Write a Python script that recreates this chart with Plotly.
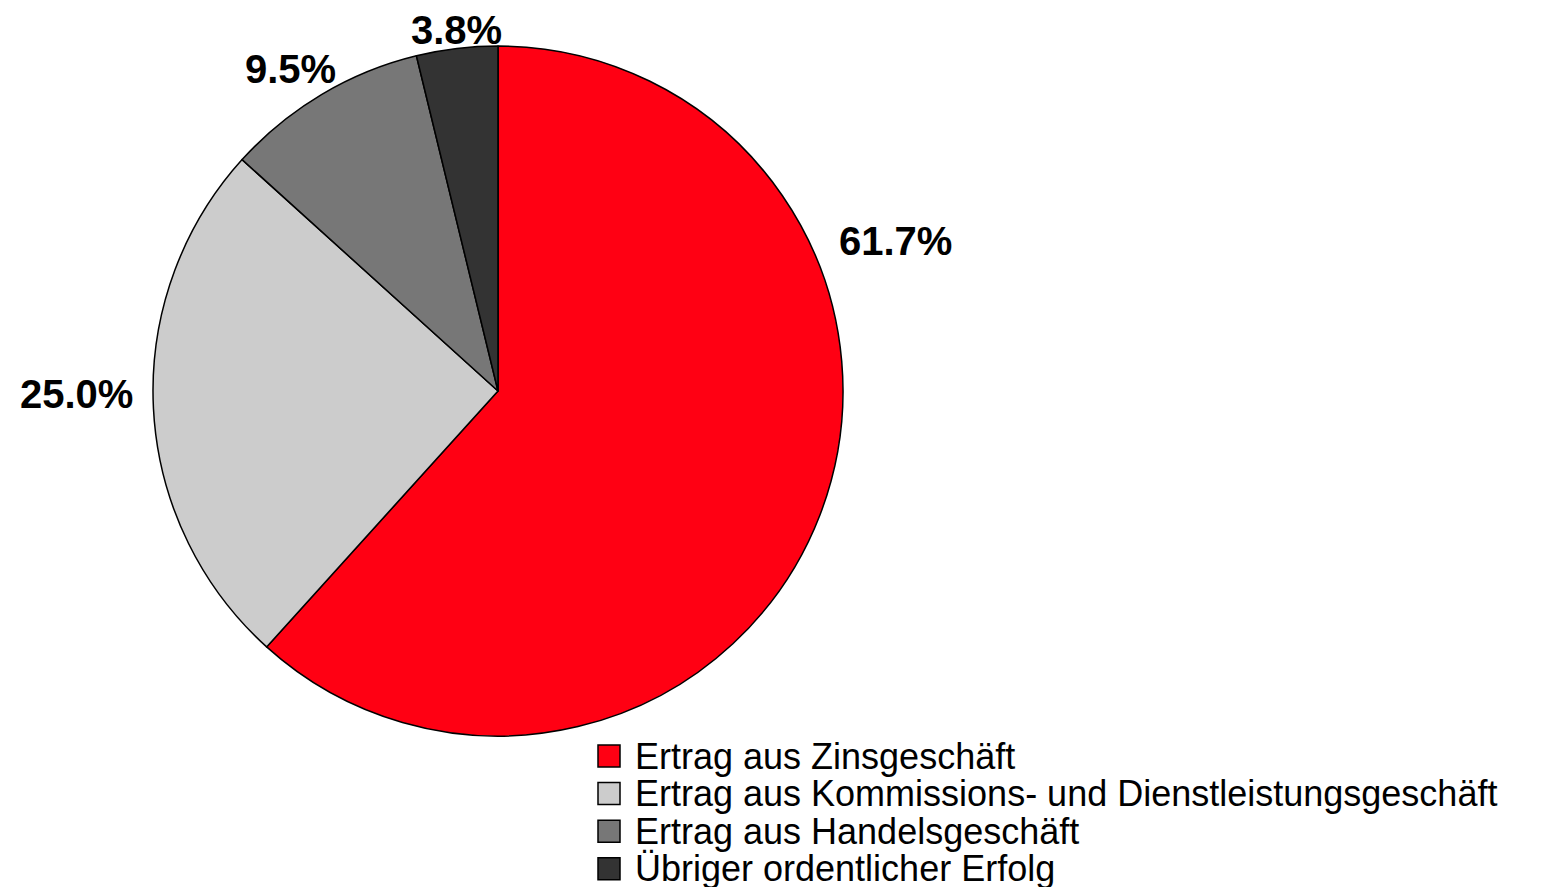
import math
import plotly.graph_objects as go

categories = [
    "Ertrag aus Zinsgeschäft",
    "Ertrag aus Kommissions- und Dienstleistungsgeschäft",
    "Ertrag aus Handelsgeschäft",
    "Übriger ordentlicher Erfolg",
]
values = [61.7, 25.0, 9.5, 3.8]
colors = ["#FF0013", "#CCCCCC", "#777777", "#333333"]

W, H = 1549, 887
OFF = 8  # page body margin
CX, CY, R = 498 - OFF, 391 - OFF, 345
label_font = 40
# label placement tweaks (degrees / px beyond the rim), like the original layout
angle_nudge = [-41.7, 2.5, -2.1, 0.2]
radial_offset = [80, 77, 38, 18]
FONT = "Liberation Sans, Arial, sans-serif"

fig = go.Figure()
fig.add_trace(go.Pie(
    labels=categories,
    values=values,
    sort=False,
    direction="clockwise",
    rotation=0,
    marker=dict(colors=colors, line=dict(color="#000000", width=1.5)),
    textinfo="none",
    hoverinfo="label+percent",
    showlegend=False,
    domain=dict(x=[(CX - R) / W, (CX + R) / W], y=[(H - CY - R) / H, (H - CY + R) / H]),
))

total = sum(values)
cum = 0.0
annotations = []
for v, nudge, ro in zip(values, angle_nudge, radial_offset):
    mid = (cum + v / 2) / total * 360 + nudge
    cum += v
    a = math.radians(mid)
    d = R + ro
    px = CX + d * math.sin(a)
    py = CY - d * math.cos(a)
    txt = f"{v / total * 100:.1f}%"
    annotations.append(dict(
        x=px / W, y=(H - py) / H, xref="paper", yref="paper",
        text=f"<b>{txt}</b>", showarrow=False,
        xanchor="center", yanchor="middle",
        font=dict(family=FONT, size=label_font, color="#000000"),
    ))

# legend drawn as boxes + text
LEG_X = 598 - OFF
LEG_Y0 = 756 - OFF
LEG_DY = 37.6
BOX = 22
shapes = []
for i, (cat, col) in enumerate(zip(categories, colors)):
    yc = LEG_Y0 + i * LEG_DY
    shapes.append(dict(
        type="rect", xref="paper", yref="paper",
        x0=LEG_X / W, x1=(LEG_X + BOX) / W,
        y0=(H - (yc - BOX / 2)) / H, y1=(H - (yc + BOX / 2)) / H,
        fillcolor=col, line=dict(color="#000000", width=1.5),
    ))
    annotations.append(dict(
        x=(LEG_X + BOX + 13) / W, y=(H - yc) / H, xref="paper", yref="paper",
        text=cat, showarrow=False, xanchor="left", yanchor="middle",
        font=dict(family=FONT, size=36, color="#000000"),
    ))

fig.update_layout(
    width=W, height=H,
    margin=dict(l=0, r=0, t=0, b=0, autoexpand=False),
    paper_bgcolor="#FFFFFF",
    plot_bgcolor="#FFFFFF",
    font=dict(family=FONT, color="#000000"),
    annotations=annotations,
    shapes=shapes,
    showlegend=False,
)

fig.write_html("out.html")
